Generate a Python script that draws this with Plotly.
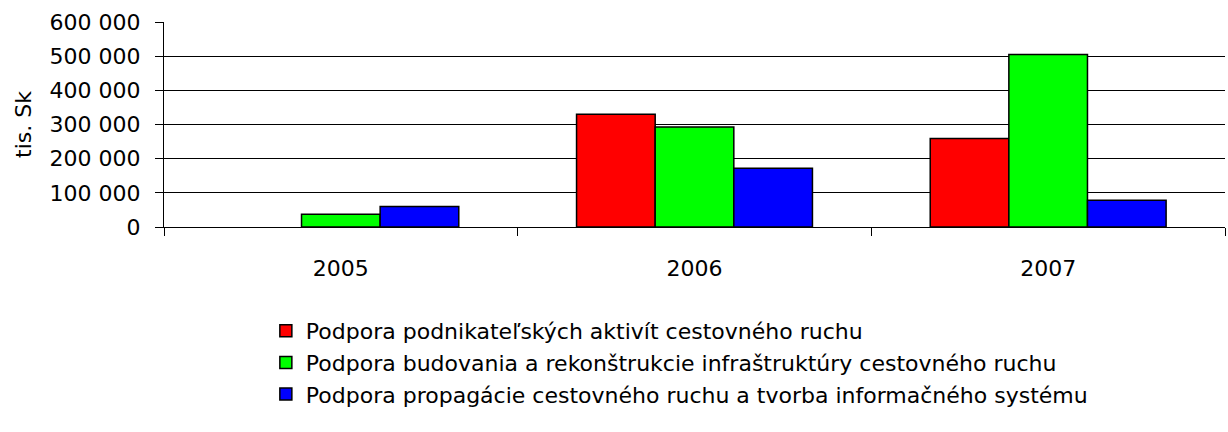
import plotly.graph_objects as go

years = ["2005", "2006", "2007"]
series_names = [
    "Podpora podnikateľských aktivít cestovného ruchu",
    "Podpora budovania a rekonštrukcie infraštruktúry cestovného ruchu",
    "Podpora propagácie cestovného ruchu a tvorba informačného systému",
]
podnikatelske = [None, 330000, 259000]
infrastruktura = [37000, 293000, 505000]
propagacia = [60000, 172000, 78000]
colors = ["#FF0000", "#00FF00", "#0000FF"]
y_ticks = [0, 100000, 200000, 300000, 400000, 500000, 600000]

FONT = "DejaVu Sans, Liberation Sans, Arial, sans-serif"

fig = go.Figure()
for i, (name, vals, col) in enumerate(zip(series_names, [podnikatelske, infrastruktura, propagacia], colors)):
    fig.add_trace(go.Bar(
        x=years, y=vals, name=name,
        marker=dict(color=col, line=dict(color="black", width=1.5)),
    ))

fig.update_layout(
    width=1228, height=432,
    margin=dict(l=164, r=3, t=22, b=205),
    paper_bgcolor="white", plot_bgcolor="white",
    barmode="group", bargap=0.333, bargroupgap=0,
    separators=", ",
    font=dict(family=FONT, size=22, color="black"),
    showlegend=True,
    legend=dict(
        x=0.096, y=-0.405, xanchor="left", yanchor="top",
        orientation="v", font=dict(size=22, family=FONT),
        bgcolor="rgba(0,0,0,0)",
    ),
)
fig.update_xaxes(
    type="category", showline=True, linecolor="black", linewidth=1,
    ticks="outside", tickson="boundaries", ticklen=8, tickcolor="black",
    ticklabelstandoff=22, showgrid=False,
)
fig.update_yaxes(
    range=[0, 600000], tickvals=y_ticks, tickformat=",d",
    showline=True, linecolor="black", linewidth=1,
    ticks="outside", ticklen=8, tickcolor="black", ticklabelstandoff=10,
    showgrid=True, gridcolor="black", gridwidth=1, zeroline=False,
    title=dict(text="tis. Sk", standoff=11, font=dict(size=22)),
)

fig.write_html("out.html", config={"displayModeBar": False},
               post_script="document.body.style.margin='0';")
